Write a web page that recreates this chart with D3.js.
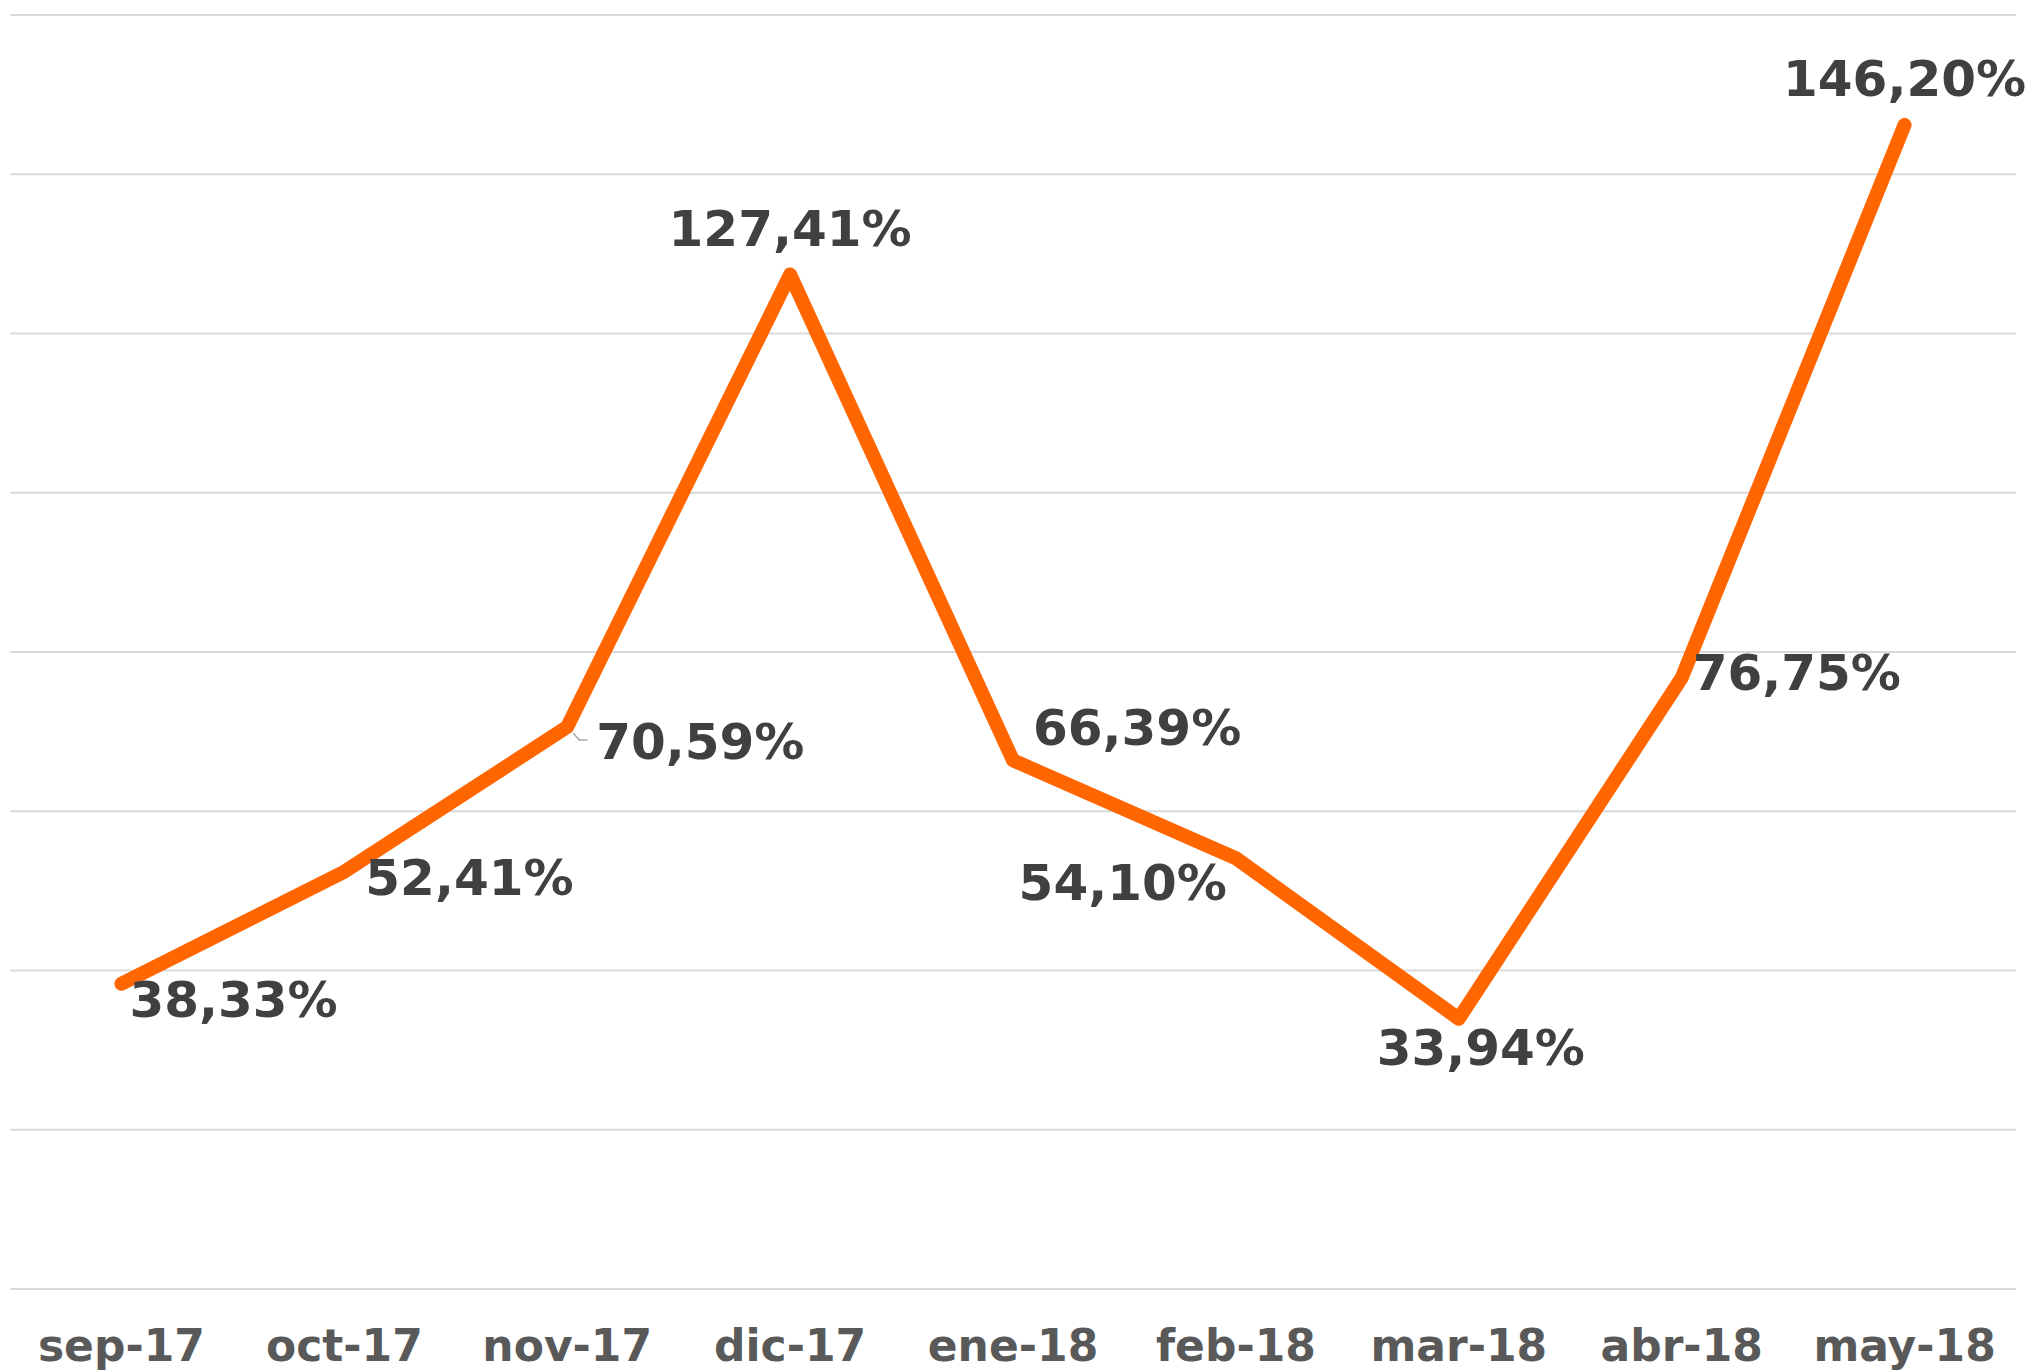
<!DOCTYPE html>
<html>
<head>
<meta charset="utf-8">
<script src="https://cdn.jsdelivr.net/npm/d3@7"></script>
<style>
  html, body { margin: 0; padding: 0; background: #fff; }
  svg { display: block; }
</style>
</head>
<body>
<svg id="chart" width="2034" height="1370"></svg>
<script>
// data
var months = ["sep-17", "oct-17", "nov-17", "dic-17", "ene-18", "feb-18", "mar-18", "abr-18", "may-18"];
var values = [38.33, 52.41, 70.59, 127.41, 66.39, 54.10, 33.94, 76.75, 146.20];
var yTicks = [0, 20, 40, 60, 80, 100, 120, 140, 160];

// where each data label sits relative to its point (dx, dy, anchor)
var labelPos = [
  [8, 16, "start"], [21, 6, "start"], [29, 15, "start"],
  [0, -46, "middle"], [20, -33, "start"], [-9, 24, "end"],
  [22, 29, "middle"], [11, -5, "start"], [0, -46, "middle"]
];

function fmt(v){ return v.toFixed(2).replace(".", ",") + "%"; }

var svg = d3.select("#chart");
var plotL = 10, plotR = 2016, plotT = 15, plotB = 1289;

var x = d3.scaleBand().domain(months).range([plotL, plotR]).padding(0);
var y = d3.scaleLinear().domain([0, 160]).range([plotB, plotT]);
function cx(m){ return x(m) + x.bandwidth() / 2; }

// gridlines
svg.append("g").selectAll("line")
  .data(yTicks).enter().append("line")
  .attr("x1", plotL).attr("x2", plotR)
  .attr("y1", function(d){ return y(d); })
  .attr("y2", function(d){ return y(d); })
  .attr("stroke", "#d9d9d9").attr("stroke-width", 2);

// category axis
var xAxis = svg.append("g")
  .attr("transform", "translate(0," + plotB + ")")
  .call(d3.axisBottom(x).tickSize(0).tickPadding(0));
xAxis.select(".domain").remove();
xAxis.selectAll("text")
  .attr("y", 72).attr("dy", 0)
  .attr("fill", "#595959")
  .style("font-family", "'DejaVu Sans', Verdana, sans-serif")
  .style("font-weight", "bold")
  .style("font-size", "44px");

var pts = months.map(function(m, i){ return {m: m, v: values[i]}; });

var line = d3.line()
  .x(function(d){ return cx(d.m); })
  .y(function(d){ return y(d.v); });

svg.append("path")
  .datum(pts)
  .attr("d", line)
  .attr("fill", "none")
  .attr("stroke", "#ff6600")
  .attr("stroke-width", 14)
  .attr("stroke-linecap", "round")
  .attr("stroke-linejoin", "round");

// small leader line for nov-17
var nx = cx(months[2]), ny = y(values[2]);
svg.append("path")
  .attr("d", "M" + (nx + 6) + "," + (ny + 6) + "L" + (nx + 12) + "," + (ny + 13) + "L" + (nx + 20) + "," + (ny + 13))
  .attr("fill", "none").attr("stroke", "#a6a6a6").attr("stroke-width", 1.5);

svg.append("g").selectAll("text")
  .data(pts).enter().append("text")
  .attr("x", function(d, i){ return cx(d.m) + labelPos[i][0]; })
  .attr("y", function(d, i){ return y(d.v) + labelPos[i][1]; })
  .attr("dy", "0.35em")
  .attr("text-anchor", function(d, i){ return labelPos[i][2]; })
  .attr("fill", "#404040")
  .style("font-family", "'DejaVu Sans', Verdana, sans-serif")
  .style("font-weight", "bold")
  .style("font-size", "50px")
  .text(function(d){ return fmt(d.v); });
</script>
</body>
</html>
